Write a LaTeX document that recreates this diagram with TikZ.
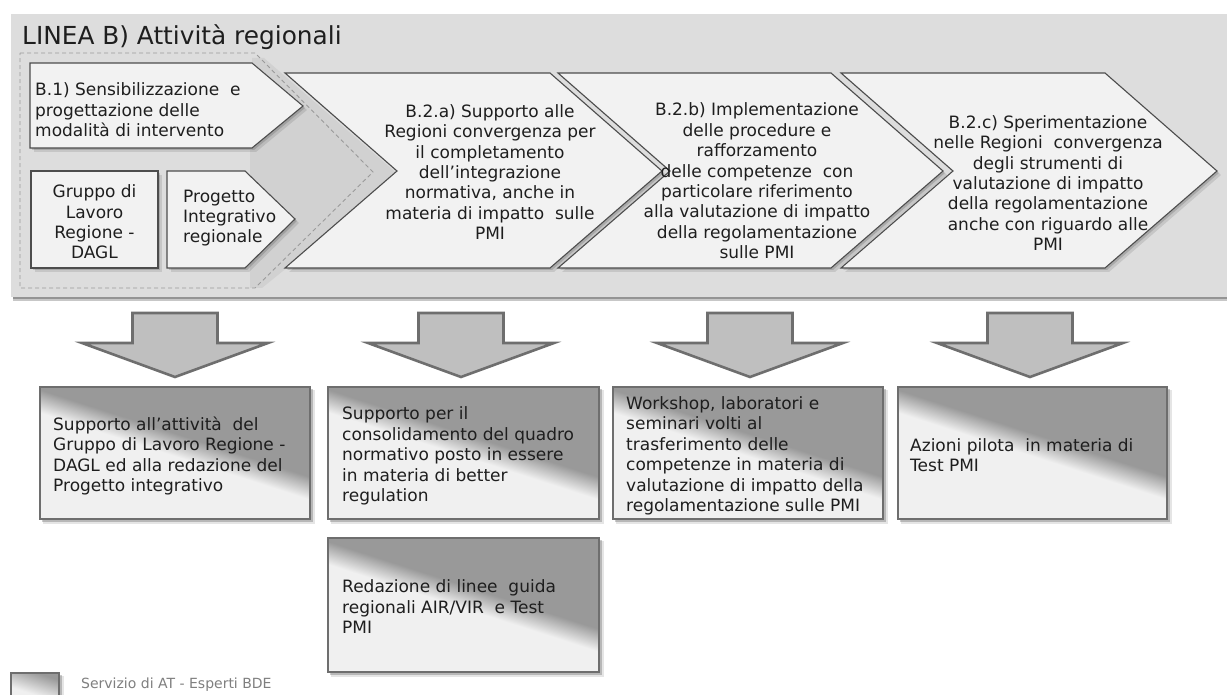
\documentclass[tikz,border=0pt]{standalone}
\usepackage{fontspec}
\setmainfont{DejaVu Sans}

\definecolor{panel}{HTML}{DDDDDD}
\definecolor{groupgray}{HTML}{D1D1D1}
\definecolor{chevfill}{HTML}{F2F2F2}
\definecolor{edge}{HTML}{4D4D4D}
\definecolor{dashgray}{HTML}{9A9A9A}
\definecolor{arrowfill}{HTML}{BFBFBF}
\definecolor{arrowedge}{HTML}{6E6E6E}
\definecolor{gdark}{HTML}{999999}
\definecolor{glight}{HTML}{F0F0F0}
\definecolor{txt}{HTML}{1E1E1E}
\definecolor{legendtxt}{HTML}{7F7F7F}

% diagonal two-tone fill of the output boxes (light below, dark above)
\pgfdeclareverticalshading{atshade}{100bp}{color(0bp)=(glight); color(48.4bp)=(glight); color(51.6bp)=(gdark); color(100bp)=(gdark)}

\tikzset{
  chevron/.style={fill=chevfill, draw=edge, line width=1.1pt, line join=miter},
  softshade/.style={fill=black, opacity=0.14},
  dashline/.style={draw=dashgray, dash pattern=on 4pt off 3pt, line width=0.9pt},
  blockarrow/.style={fill=arrowfill, draw=arrowedge, line width=2.6pt, line join=miter},
  boxedge/.style={draw=arrowedge, line width=1.3pt},
  chevtext/.style={text=txt, font=\fontsize{17}{20.4}\selectfont, inner sep=0pt, align=center},
  lefttext/.style={text=txt, font=\fontsize{17}{20.4}\selectfont, inner sep=0pt, align=left, anchor=west},
  boxtext/.style={text=txt, font=\fontsize{17}{20.5}\selectfont, inner sep=0pt, align=left, anchor=west},
}

% a filled shape with a soft drop shadow
\newcommand\shadowedshape[2]{%
  \fill[softshade, shift={(2,2)}] #2;
  \fill[softshade, opacity=0.10, shift={(4,4)}] #2;
  \path[#1] #2;}

% output box: x1, y1, x2, y2, offset of the diagonal
\newcommand\gradbox[5]{%
  \fill[softshade, opacity=0.2] (#1+2,#2+2) rectangle (#3+3,#4+3);
  \fill[softshade, opacity=0.1] (#1+3,#2+3) rectangle (#3+5,#4+5);
  \begin{scope}
    \clip (#1,#2) rectangle (#3,#4);
    \shade[shading=atshade, shading angle=-17.9]
      ({(#1+#3)/2+0.307*#5-170},{(#2+#4)/2-0.951*#5-170}) rectangle ++(340,340);
  \end{scope}
  \draw[boxedge] (#1,#2) rectangle (#3,#4);}

% downward block arrow centred at x
\newcommand\downblock[1]{%
  \filldraw[blockarrow] (#1-42.5,313) -- (#1+42.5,313) -- (#1+42.5,343) -- (#1+93,343)
    -- (#1,377) -- (#1-93,343) -- (#1-42.5,343) -- cycle;}

\begin{document}
\begin{tikzpicture}[x=1pt,y=-1pt]
\useasboundingbox (0,0) rectangle (1227,695);
\fill[white] (0,0) rectangle (1227,695);

% ---- panel of line B ----
\fill[black!42] (13,296) rectangle (1227,299.5);
\fill[black!22] (13,299.5) rectangle (1227,301.5);
\fill[panel] (11,14) rectangle (1227,297);
\node[anchor=base west, inner sep=0pt, text=txt, font=\fontsize{24.8}{28}\selectfont] (title) at (22,45) {LINEA B) Attività regionali};

% grouped activities B.1
\fill[groupgray] (252,58) -- (264,58) -- (400,176) -- (262,288) -- (250,288) -- (250,150) -- (252,150) -- cycle;
\draw[dashline] (20,53) -- (255,53) -- (373,172) -- (255,288) -- (20,288) -- cycle;

\shadowedshape{chevron}{(30,63) -- (252,63) -- (303,106) -- (252,148) -- (30,148) -- cycle}
\node[lefttext] (b1) at (35,110) {B.1) Sensibilizzazione\ \ e\\progettazione delle\\modalità di intervento};

\shadowedshape{chevron}{(31,171) -- (158,171) -- (158,268) -- (31,268) -- cycle}
\node[chevtext] (gruppo) at (94.5,222) {Gruppo di\\Lavoro\\Regione -\\DAGL};

\shadowedshape{chevron}{(167,171) -- (245,171) -- (295,219) -- (245,268) -- (167,268) -- cycle}
\node[lefttext] (progetto) at (183,218) {Progetto\\Integrativo\\regionale};

% chevrons B.2
\shadowedshape{chevron}{(285,73) -- (550,73) -- (662,171) -- (550,268) -- (285,268) -- (397,171) -- cycle}
\node[chevtext] (b2a) at (490,172) {B.2.a) Supporto alle\\Regioni convergenza per\\il completamento\\dell’integrazione\\normativa, anche in\\materia di impatto\ \ sulle\\PMI};

\shadowedshape{chevron}{(558,73) -- (831,73) -- (943,171) -- (831,268) -- (558,268) -- (670,171) -- cycle}
\node[chevtext] (b2b) at (757,181) {B.2.b) Implementazione\\delle procedure e\\rafforzamento\\delle competenze\ \ con\\particolare riferimento\\alla valutazione di impatto\\della regolamentazione\\sulle PMI};

\shadowedshape{chevron}{(841,73) -- (1105,73) -- (1217,171) -- (1105,268) -- (841,268) -- (953,171) -- cycle}
\node[chevtext] (b2c) at (1048,183) {B.2.c) Sperimentazione\\nelle Regioni\ \ convergenza\\degli strumenti di\\valutazione di impatto\\della regolamentazione\\anche con riguardo alle\\PMI};

% ---- downward arrows ----
\foreach \cx in {175,461,750,1030} {\downblock{\cx}}

% ---- output boxes ----
\gradbox{40}{387}{310}{519}{8}
\node[boxtext] (out1) at (53,456) {Supporto all’attività\ \ del\\Gruppo di Lavoro Regione -\\DAGL ed alla redazione del\\Progetto integrativo};

\gradbox{328}{387}{599}{519}{8}
\node[boxtext] (out2) at (342,456) {Supporto per il\\consolidamento del quadro\\normativo posto in essere\\in materia di better\\regulation};

\gradbox{613}{387}{883}{519}{8}
\node[boxtext] (out3) at (626,456) {Workshop, laboratori e\\seminari volti al\\trasferimento delle\\competenze in materia di\\valutazione di impatto della\\regolamentazione sulle PMI};

\gradbox{898}{387}{1167}{519}{8}
\node[boxtext] (out4) at (910,455) {Azioni pilota\ \ in materia di\\Test PMI};

\gradbox{328}{538}{599}{672}{8}
\node[boxtext] (out5) at (342,607) {Redazione di linee\ \ guida\\regionali AIR/VIR\ \ e Test\\PMI};

% ---- legend ----
\gradbox{11}{673}{59}{698}{2}
\node[anchor=west, inner sep=0pt, text=legendtxt, font=\fontsize{14}{16}\selectfont] (legend) at (81,685) {Servizio di AT - Esperti BDE};
\end{tikzpicture}
\end{document}
